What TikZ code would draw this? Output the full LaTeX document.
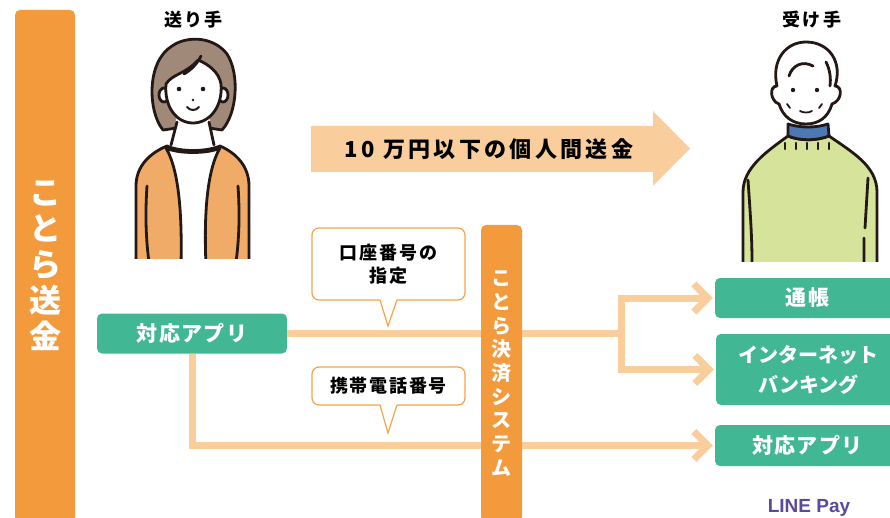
\documentclass[tikz,border=0pt]{standalone}
\usepackage{fontspec}
\setmainfont{Noto Sans CJK JP}
\newfontfamily\latinfont{Liberation Sans}
\usetikzlibrary{arrows.meta}

\definecolor{kotoraorange}{HTML}{F29A3C}
\definecolor{peach}{HTML}{F9CE9C}
\definecolor{appgreen}{HTML}{42B794}
\definecolor{noteorange}{HTML}{F4A349}
\definecolor{inkline}{HTML}{231815}
\definecolor{hairtaupe}{HTML}{A08979}
\definecolor{cardigan}{HTML}{F0AB68}
\definecolor{sweater}{HTML}{D5E49A}
\definecolor{collarblue}{HTML}{4C79B3}
\definecolor{linepurple}{HTML}{5B4A9C}

\tikzset{
	kotorabar/.style = {fill=kotoraorange, rounded corners=5pt, text=white, align=center, inner sep=0pt},
	greenbox/.style = {fill=appgreen, rounded corners=5pt, text=white, align=center, inner sep=0pt, font=\fontsize{21}{25}\selectfont\bfseries\addfontfeature{LetterSpace=6}},
	note/.style = {draw=noteorange, line width=1.2pt, fill=white, rounded corners=7pt, outer sep=0pt, align=center, font=\fontsize{18}{23}\selectfont\bfseries\addfontfeature{LetterSpace=10}},
	link/.style = {draw=peach, line width=7pt},
	linkarrow/.style = {link, -{Straight Barb[length=14pt, width=28pt, sharp]}, shorten >=2pt},
	ink/.style = {draw=inkline, line width=2.8pt, line cap=round, line join=round},
	who/.style = {font=\fontsize{18}{20}\selectfont\bfseries\addfontfeature{LetterSpace=12}}
}

\begin{document}
\begin{tikzpicture}[x=1pt, y=-1pt]
	\useasboundingbox (0,0) rectangle (890,518);
	\clip (0,0) rectangle (890,518);

	\node[kotorabar, minimum width=60, minimum height=512, font=\fontsize{32}{36}\selectfont\bfseries] (sokin) at (45,266) {こ\\と\\ら\\送\\金};

	% sender
	\node[who] (sender) at (193.5,20) {送り手};
	\begin{scope}
		\clip (120,30) rectangle (270,259);
		\fill[hairtaupe] (163,130) .. controls (148,112) and (146,62) .. (172,46) .. controls (188,35) and (214,37) .. (227,54) .. controls (240,74) and (237,114) .. (222,130) -- cycle;
		\draw[ink] (177,128) -- (163,130) .. controls (148,112) and (146,62) .. (172,46) .. controls (188,35) and (214,37) .. (227,54) .. controls (240,74) and (237,114) .. (222,130) -- (209,128);
		\fill[white] (177,115) -- (209,115) -- (214,150) -- (171,150) -- cycle;
		\draw[ink] (177,122) -- (171,145) (209,122) -- (214,145);
		\filldraw[ink, fill=cardigan] (136,265) -- (136,186) .. controls (136,166) and (150,153) .. (167,146) .. controls (180,152) and (206,152) .. (220,146) .. controls (236,153) and (249,166) .. (249,186) -- (249,265);
		\filldraw[ink, fill=white] (181,265) .. controls (182,220) and (180,172) .. (166,148) .. controls (178,154) and (208,154) .. (220,148) .. controls (206,172) and (204,220) .. (206,265);
		\draw[ink] (147,186) .. controls (145,215) and (146,240) .. (149,262);
		\draw[ink] (238,186) .. controls (240,215) and (239,240) .. (236,262);
		\filldraw[ink, fill=white] (164,95) ellipse (5 and 7) (223,95) ellipse (5 and 7);
		\filldraw[ink, fill=white] (166,84) .. controls (172,74) and (186,74) .. (198,60) .. controls (208,64) and (219,72) .. (221,84) .. controls (223,106) and (210,123) .. (193,123) .. controls (176,123) and (164,106) .. (166,84) -- cycle;
		\draw[ink] (184,74) .. controls (191,70) and (197,64) .. (201,56);
		\fill[inkline] (179,89) circle (2.3) (203,89) circle (2.3) (193,100) circle (1.3);
		\draw[ink, line width=2pt] (187,107) .. controls (190,111) and (196,111) .. (199,107);
	\end{scope}

	% receiver
	\node[who] (receiver) at (812,20) {受け手};
	\begin{scope}
		\clip (730,30) rectangle (890,262);
		\filldraw[ink, fill=sweater] (743,270) -- (743,192) .. controls (743,168) and (766,152) .. (788,136) .. controls (800,141) and (816,141) .. (829,136) .. controls (852,152) and (877,166) .. (877,192) -- (877,270);
		\filldraw[ink, fill=white] (779,104) .. controls (770,101) and (769,86) .. (777,86) .. controls (771,60) and (786,42) .. (806,42) .. controls (829,42) and (843,62) .. (835,86) .. controls (843,86) and (842,101) .. (832,104) .. controls (828,118) and (818,124) .. (806,124) .. controls (793,124) and (783,117) .. (779,104) -- cycle;
		\filldraw[ink, fill=collarblue] (788,124) .. controls (800,128) and (816,128) .. (828,124) -- (829,136) .. controls (816,141) and (800,141) .. (788,136) -- cycle;
		\draw[ink] (789,76) .. controls (792,66) and (802,60) .. (813,66);
		\draw[ink] (826,62) .. controls (830,70) and (831,78) .. (830,86);
		\fill[inkline] (793,90) circle (2.2) (817,90) circle (2.2);
		\draw[ink, line width=1.8pt] (787,104) -- (790,108) (822,104) -- (819,108) (800,111) .. controls (803,113) and (809,113) .. (812,111);
		\foreach \x in {785,796,807,818,829}
			\draw[ink, line width=2.2pt] (\x,143) -- (\x,149);
		\draw[ink] (748,180) .. controls (750,210) and (752,235) .. (752,262);
		\draw[ink] (868,178) -- (865,228) (864,238) -- (864,262);
	\end{scope}

	% big arrow
	\fill[peach] (311,126) -- (653,126) -- (653,111) -- (690,148.5) -- (653,186) -- (653,172) -- (311,172) -- cycle;
	\node[font=\fontsize{22}{25}\selectfont\bfseries\addfontfeature{LetterSpace=15}] (limit) at (489,149) {10 万円以下の個人間送金};

	\node[greenbox, minimum width=190, minimum height=40] (app) at (192,333.5) {対応アプリ};
	\node[greenbox, minimum width=185, minimum height=40] (passbook) at (807.5,298) {通帳};
	\node[greenbox, minimum width=185, minimum height=71, font=\fontsize{20}{30}\selectfont\bfseries] (netbank) at (808.5,369.5) {インターネット\\バンキング};
	\node[greenbox, minimum width=185, minimum height=41] (recvapp) at (807.5,445.5) {対応アプリ};

	\coordinate (fork) at (621.5,333.5);
	\draw[link] (app.east) -- (fork);
	\draw[linkarrow] (fork) |- (passbook.west);
	\draw[linkarrow] (fork) |- (netbank.west);
	\draw[linkarrow] (app.south) |- (recvapp.west);

	\node[kotorabar, minimum width=41, minimum height=297, font=\fontsize{20}{23.7}\selectfont\bfseries] (kessai) at (501.5,373.5) {こ\\と\\ら\\決\\済\\シ\\ス\\テ\\ム};

	% callouts
	\node[note, minimum width=153, minimum height=72] (account) at (388.5,264) {口座番号の\\指定};
	\coordinate (account-tip) at (388,326);
	\node[note, minimum width=153, minimum height=38] (phone) at (388.5,386) {携帯電話番号};
	\coordinate (phone-tip) at (388,433);
	\foreach \n in {account, phone} {
		\fill[white] ([xshift=-8.5pt, yshift=1.5pt]\n.south) -- (\n-tip) -- ([xshift=8.5pt, yshift=1.5pt]\n.south) -- cycle;
		\draw[noteorange, line width=1.2pt] ([xshift=-8.5pt]\n.south) -- (\n-tip) -- ([xshift=8.5pt]\n.south);
	}

	\node[font=\latinfont\bfseries\fontsize{19}{21}\selectfont, text=linepurple, anchor=base] (linepay) at (809,512) {LINE Pay};
\end{tikzpicture}
\end{document}
